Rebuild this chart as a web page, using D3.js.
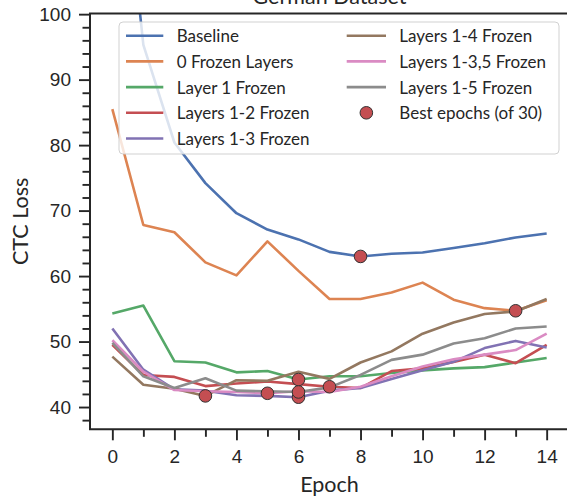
<!DOCTYPE html>
<html>
<head>
<meta charset="utf-8">
<script src="https://cdn.jsdelivr.net/npm/d3@7"></script>
<style>
  html, body { margin: 0; padding: 0; background: #ffffff; }
  svg { display: block; font-family: Lato, "Noto Sans", sans-serif; }
</style>
</head>
<body>
<svg id="chart" width="567" height="496"></svg>
<script>
// ---------- data ----------
const epochs = [0, 1, 2, 3, 4, 5, 6, 7, 8, 9, 10, 11, 12, 13, 14];
const baseline   = [140, 95.3, 80.4, 74.2, 69.6, 67.1, 65.6, 63.7, 63.0, 63.4, 63.6, 64.3, 65.0, 65.9, 66.5];
const frozen0    = [85.5, 67.8, 66.7, 62.1, 60.1, 65.3, 60.8, 56.5, 56.5, 57.5, 59.0, 56.4, 55.1, 54.7, 56.3];
const frozen1    = [54.3, 55.5, 47.0, 46.8, 45.3, 45.5, 44.2, 44.7, 44.7, 45.2, 45.6, 45.9, 46.1, 46.8, 47.5];
const frozen12   = [49.5, 44.9, 44.6, 43.2, 43.6, 43.9, 43.5, 43.1, 42.9, 45.5, 45.9, 46.9, 48.0, 46.7, 49.5];
const frozen13   = [52.0, 45.7, 42.7, 42.5, 41.8, 41.7, 41.5, 42.5, 42.9, 44.3, 45.6, 46.9, 49.0, 50.1, 49.1];
const frozen14   = [47.7, 43.4, 42.8, 41.7, 44.1, 44.0, 45.4, 44.3, 46.8, 48.5, 51.2, 52.9, 54.2, 54.6, 56.5];
const frozen135  = [50.2, 45.4, 42.6, 42.4, 42.3, 42.1, 42.4, 42.3, 43.1, 44.7, 46.2, 47.3, 48.0, 48.7, 51.2];
const frozen15   = [49.8, 44.7, 42.9, 44.4, 42.5, 42.4, 42.3, 43.0, 44.9, 47.2, 48.0, 49.7, 50.5, 52.0, 52.3];
const seriesNames = ["Baseline", "0 Frozen Layers", "Layer 1 Frozen", "Layers 1-2 Frozen",
                     "Layers 1-3 Frozen", "Layers 1-4 Frozen", "Layers 1-3,5 Frozen", "Layers 1-5 Frozen"];
const seriesValues = [baseline, frozen0, frozen1, frozen12, frozen13, frozen14, frozen135, frozen15];
const bestEpochs = [8, 13, 6, 7, 6, 3, 5, 6];
const colors = ["#4C72B0", "#DD8452", "#55A868", "#C44E52", "#8172B3", "#937860", "#DA8BC3", "#8C8C8C"];
const dotLabel = "Best epochs (of 30)";
const xMajorTicks = [0, 2, 4, 6, 8, 10, 12, 14];
const xMinorTicks = [1, 3, 5, 7, 9, 11, 13];
const yMajorTicks = [40, 50, 60, 70, 80, 90, 100];
const yMinorTicks = [38, 42, 44, 46, 48, 52, 54, 56, 58, 62, 64, 66, 68, 72, 74, 76, 78, 82, 84, 86, 88, 92, 94, 96, 98];
const titleText = "German Dataset";
const xLabel = "Epoch";
const yLabel = "CTC Loss";

// ---------- layout ----------
const ink = "#262626";
const L = 90, R = 569, T = 13.5, B = 429.3;
const svg = d3.select("#chart");

const x = d3.scaleLinear().domain([-0.72, 14.72]).range([L, R]);
const y = d3.scaleLinear().domain([36.6, 100.1]).range([B, T]);

svg.append("defs").append("clipPath").attr("id", "plotclip")
  .append("rect").attr("x", L).attr("y", T).attr("width", R - L).attr("height", B - T);

// lines
const line = d3.line().x((d, i) => x(epochs[i])).y(d => y(d));
const gLines = svg.append("g").attr("clip-path", "url(#plotclip)");
seriesValues.forEach((vals, k) => {
  gLines.append("path")
    .datum(vals)
    .attr("d", line)
    .attr("fill", "none")
    .attr("stroke", colors[k])
    .attr("stroke-width", 2.6)
    .attr("stroke-linejoin", "round");
});

// best epoch dots
const dots = bestEpochs.map((e, k) => ({ e: e, v: seriesValues[k][epochs.indexOf(e)] }));
gLines.selectAll("circle.best").data(dots).enter().append("circle")
  .attr("class", "best")
  .attr("cx", d => x(d.e))
  .attr("cy", d => y(d.v))
  .attr("r", 6.3)
  .attr("fill", "#C44E52")
  .attr("stroke", "#333333")
  .attr("stroke-width", 1);

// axes
const fontTick = 19;
const yAxis = d3.axisLeft(y).tickValues(yMajorTicks).tickSize(11).tickPadding(8).tickSizeOuter(0);
const yAxisMinor = d3.axisLeft(y).tickValues(yMinorTicks).tickSize(7.5).tickFormat("").tickSizeOuter(0);
const xAxis = d3.axisBottom(x).tickValues(xMajorTicks).tickSize(11).tickPadding(9).tickSizeOuter(0);
const xAxisMinor = d3.axisBottom(x).tickValues(xMinorTicks).tickSize(7.5).tickFormat("").tickSizeOuter(0);

function styleAxis(g) {
  g.select(".domain").remove();
  g.selectAll(".tick line").attr("stroke", ink).attr("stroke-width", 1.9);
  g.selectAll(".tick text").attr("fill", ink).style("font-size", fontTick + "px");
}
svg.append("g").attr("transform", `translate(${L},0)`).call(yAxisMinor).call(styleAxis);
svg.append("g").attr("transform", `translate(${L},0)`).call(yAxis).call(styleAxis);
svg.append("g").attr("transform", `translate(0,${B})`).call(xAxisMinor).call(styleAxis);
svg.append("g").attr("transform", `translate(0,${B})`).call(xAxis).call(styleAxis);

// spines
const spines = svg.append("g").attr("stroke", ink).attr("stroke-width", 2).attr("fill", "none");
spines.append("path").attr("d", `M${L},${T}H${R}V${B}H${L}Z`);

// legend
const lg = svg.append("g");
lg.append("rect")
  .attr("x", 119).attr("y", 22).attr("width", 440).attr("height", 132).attr("rx", 4)
  .attr("fill", "#ffffff").attr("fill-opacity", 0.8)
  .attr("stroke", "#cccccc").attr("stroke-opacity", 0.9).attr("stroke-width", 1);
const rowY = i => 35.7 + i * 25.7;
const legendItems = seriesNames.map((n, k) => ({ name: n, color: colors[k], type: "line" }));
legendItems.push({ name: dotLabel, color: "#C44E52", type: "dot" });
legendItems.forEach((it, idx) => {
  const col = idx < 5 ? 0 : 1;
  const row = idx < 5 ? idx : idx - 5;
  const hx0 = col === 0 ? 126 : 346.7;
  const hx1 = col === 0 ? 163.3 : 386;
  const tx = col === 0 ? 176.7 : 399.3;
  const yy = rowY(row);
  if (it.type === "line") {
    lg.append("line").attr("x1", hx0).attr("x2", hx1).attr("y1", yy).attr("y2", yy)
      .attr("stroke", it.color).attr("stroke-width", 2.6);
  } else {
    lg.append("circle").attr("cx", (hx0 + hx1) / 2).attr("cy", yy).attr("r", 6.3)
      .attr("fill", it.color).attr("stroke", "#333333").attr("stroke-width", 1);
  }
  lg.append("text").attr("x", tx).attr("y", yy).attr("dy", "0.38em")
    .attr("fill", ink).style("font-size", "17px").text(it.name);
});

// labels
svg.append("text").attr("x", (L + R) / 2).attr("y", 491.5).attr("text-anchor", "middle")
  .attr("fill", ink).style("font-size", "21.5px").text(xLabel);
svg.append("text").attr("transform", `translate(28,${(T + B) / 2}) rotate(-90)`).attr("text-anchor", "middle")
  .attr("fill", ink).style("font-size", "21.5px").text(yLabel);
svg.append("text").attr("x", (L + R) / 2).attr("y", 4).attr("text-anchor", "middle")
  .attr("fill", ink).style("font-size", "21.5px").text(titleText);
</script>
</body>
</html>
